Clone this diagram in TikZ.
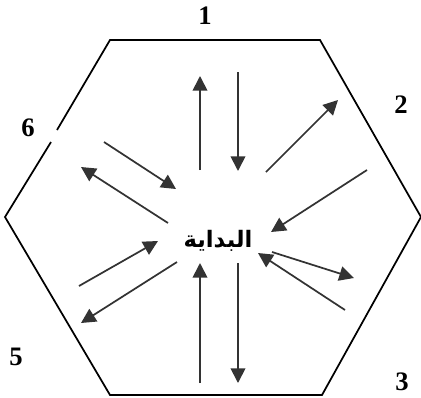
\documentclass[tikz,border=0pt]{standalone}
\usepackage{fontspec}
\setmainfont{Liberation Serif}
\newfontfamily\arabicfont[Script=Arabic]{DejaVu Sans}
\TeXXeTstate=1
\usetikzlibrary{arrows.meta}

\begin{document}
\begin{tikzpicture}[
  x=0.75pt, y=-0.75pt,
  hexline/.style = {line width=1.3pt, black},
  flow/.style = {-{Triangle[length=11pt, width=11pt]}, line width=1.3pt, black!80},
  sidelabel/.style = {font=\fontsize{20}{22}\selectfont\bfseries, inner sep=0pt},
  startlabel/.style = {font=\arabicfont\fontsize{17}{19}\selectfont\bfseries, inner sep=1pt},
]
\useasboundingbox (0,0) rectangle (421,397);

% Hexagon corners
\coordinate (tl) at (110,40);
\coordinate (tr) at (320,40);
\coordinate (r)  at (421,217);
\coordinate (br) at (322,395);
\coordinate (bl) at (110,395);
\coordinate (l)  at (5,217);
\coordinate (gapa) at (57,130);
\coordinate (gapb) at (51,142);

% Hexagon (edge 6 broken)
\draw[hexline] (gapa) -- (tl) -- (tr) -- (r) -- (br) -- (bl) -- (l) -- (gapb);

% Side numbers
\node[sidelabel] (n1) at (205,16)  {1};
\node[sidelabel] (n2) at (401,105) {2};
\node[sidelabel] (n3) at (402,382) {3};
\node[sidelabel] (n5) at (16,357)  {5};
\node[sidelabel] (n6) at (28,128)  {6};

% Centre
\node[startlabel] (start) at (218,241) {\beginR البداية\endR};

% Arrow ends
\coordinate (a1) at (200,170); \coordinate (b1) at (200,76);
\coordinate (a2) at (238,72);  \coordinate (b2) at (238,171);
\coordinate (a3) at (266,172); \coordinate (b3) at (338,100);
\coordinate (a4) at (367,170); \coordinate (b4) at (271,232);
\coordinate (a5) at (104,142); \coordinate (b5) at (176,189);
\coordinate (a6) at (168,223); \coordinate (b6) at (81,167);
\coordinate (a7) at (79,286);  \coordinate (b7) at (158,241);
\coordinate (a8) at (177,262); \coordinate (b8) at (81,323);
\coordinate (a9) at (200,383); \coordinate (b9) at (200,263);
\coordinate (a10) at (238,263); \coordinate (b10) at (238,383);
\coordinate (a11) at (272,252); \coordinate (b11) at (354,278);
\coordinate (a12) at (345,310); \coordinate (b12) at (258,253);

% Arrows
\foreach \i in {1,...,12}
  \draw[flow] (a\i) -- (b\i);
\end{tikzpicture}
\end{document}
